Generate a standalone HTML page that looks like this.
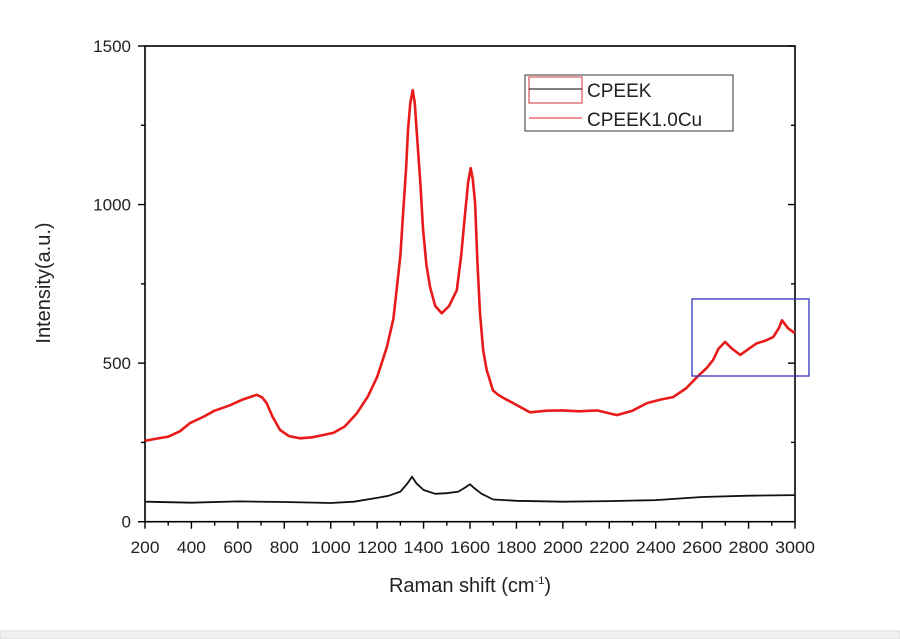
<!DOCTYPE html>
<html><head><meta charset="utf-8"><style>
html,body{margin:0;padding:0;background:#fff;width:900px;height:639px;overflow:hidden}
svg text{font-family:"Liberation Sans",Arial,sans-serif;fill:#222}
</style></head><body>
<svg id="chart" width="900" height="639" viewBox="0 0 900 639">
<rect x="0" y="631" width="900" height="8" fill="#f0f0f0" stroke="#ddd"/>
<g id="axes"></g>
<g id="series"></g>
<rect x="692" y="299" width="117" height="77" fill="none" stroke="#3333bb" stroke-width="1.3"/>
<g>
<rect x="525" y="75" width="208" height="56" fill="#fff" stroke="#333" stroke-width="1"/>
<rect x="529" y="77" width="53" height="26" fill="none" stroke="#d03030" stroke-width="1"/>
<line x1="529" y1="89" x2="582" y2="89" stroke="#000" stroke-width="1"/>
<text x="587" y="97" font-size="19">CPEEK</text>
<line x1="529" y1="118" x2="582" y2="118" stroke="#e02020" stroke-width="1"/>
<text x="587" y="126" font-size="19">CPEEK1.0Cu</text>
</g>
<text x="470" y="592" font-size="20" text-anchor="middle">Raman shift (cm<tspan dy="-8" font-size="11">-1</tspan><tspan dy="8">)</tspan></text>
<text transform="translate(50,283) rotate(-90)" font-size="20" text-anchor="middle">Intensity(a.u.)</text>
</svg>
<script>
const xTicks=[200,400,600,800,1000,1200,1400,1600,1800,2000,2200,2400,2600,2800,3000];
const yTicks=[0,500,1000,1500];
const redX=[200,250,300,350,394,450,500,566,620,681,705,724,750,782,820,868,920,960,1011,1060,1113,1160,1200,1242,1270,1285,1300,1312,1325,1333,1343,1353,1362,1370,1385,1398,1412,1428,1450,1478,1510,1543,1562,1579,1592,1603,1612,1622,1632,1643,1657,1672,1699,1721,1750,1786,1820,1859,1930,2001,2070,2147,2233,2300,2362,2420,2475,2530,2578,2620,2647,2670,2699,2730,2764,2800,2836,2870,2906,2930,2944,2970,3000];
const redY=[255,262,268,285,311,330,350,367,385,400,392,374,330,289,270,263,266,272,280,300,342,395,456,551,640,739,840,972,1120,1235,1320,1361,1320,1235,1080,920,810,739,680,657,680,730,840,972,1070,1115,1080,1004,820,657,540,478,414,400,388,374,360,345,350,351,348,351,336,350,374,385,393,420,456,485,510,545,567,545,526,545,563,570,582,610,635,610,594];
const blackX=[200,400,600,800,1000,1100,1200,1250,1300,1330,1350,1370,1400,1450,1500,1550,1580,1600,1620,1650,1700,1800,2000,2200,2400,2600,2800,3000];
const blackY=[63,60,64,62,59,63,75,82,95,120,142,120,100,88,90,95,108,118,105,88,70,66,63,65,68,78,82,84];
const X=v=>145+(v-200)*650/2800;
const Y=v=>521.7-v*(475.7/1500);
const NS="http://www.w3.org/2000/svg";
const axes=document.getElementById('axes'),series=document.getElementById('series');
function mk(tag,at,parent){const e=document.createElementNS(NS,tag);for(const k in at)e.setAttribute(k,at[k]);parent.appendChild(e);return e;}
const frame=mk('rect',{x:145,y:46,width:650,height:475.7,fill:'none',stroke:'#000','stroke-width':1.6},axes);


for(let v=200;v<=3000;v+=100){const major=xTicks.includes(v);
 mk('line',{x1:X(v),x2:X(v),y1:521.7,y2:521.7+(major?7:4),stroke:'#000','stroke-width':1.4},axes);}
xTicks.forEach(v=>{const t=mk('text',{x:X(v),y:553,'font-size':17,'text-anchor':'middle','textLength':v>=1000?40:29,'lengthAdjust':'spacingAndGlyphs'},axes);t.textContent=v;
 
 });
for(let v=0;v<=1500;v+=250){const major=yTicks.includes(v);
 mk('line',{x1:145-(major?7:4),x2:145,y1:Y(v),y2:Y(v),stroke:'#000','stroke-width':1.4},axes);
 mk('line',{x1:795-(major?7:4),x2:795,y1:Y(v),y2:Y(v),stroke:'#000','stroke-width':1.4},axes);}
yTicks.forEach(v=>{const t=mk('text',{x:131,y:Y(v)+6,'font-size':17,'text-anchor':'end'},axes);t.textContent=v;
 
 });
function path(xs,ys,color,name,w){const d=xs.map((x,i)=>(i?'L':'M')+X(x).toFixed(1)+','+Y(ys[i]).toFixed(1)).join('');
 const p=mk('path',{d:d,fill:'none',stroke:color,'stroke-width':w,'stroke-linejoin':'round'},series);
 
 }
path(blackX,blackY,'#111','line-cpeek',1.8);
path(redX,redY,'#e81a1a','line-cpeek-cu',2.6);
</script>
</body></html>
